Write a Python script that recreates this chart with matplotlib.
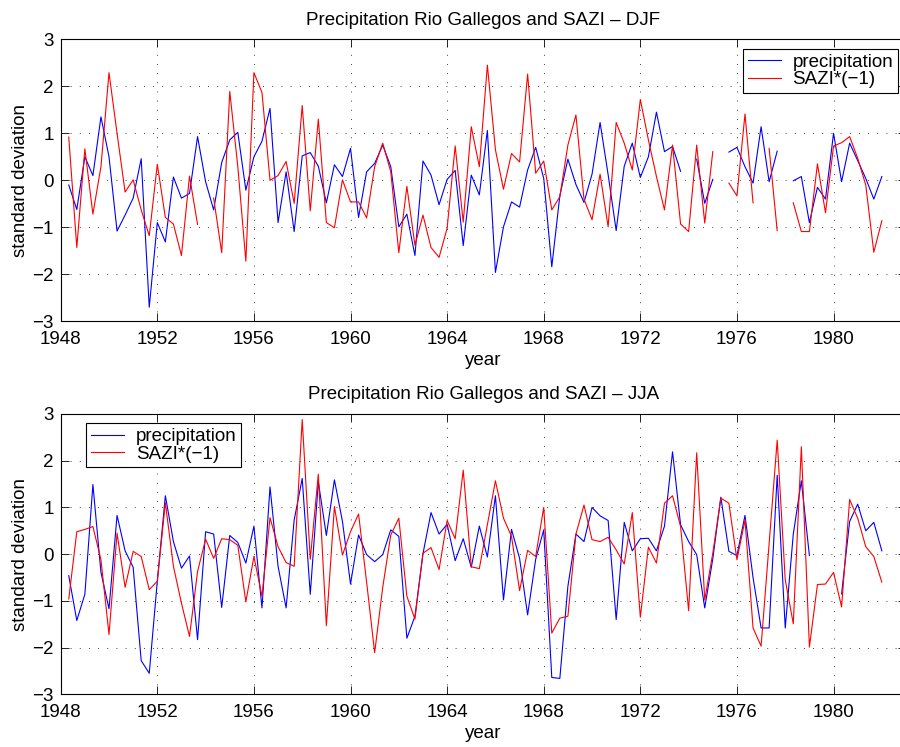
import numpy as np
import matplotlib
matplotlib.use("Agg")
import matplotlib.pyplot as plt

nan = np.nan

# three values per year, 1948 + k/3, k = 1..102
years = 1948 + np.arange(1, 103) / 3.0

djf_precip = [
    -0.10, -0.62, 0.50, 0.10, 1.35, 0.50, -1.08, -0.74, -0.38, 0.46,
    -2.70, -0.90, -1.31, 0.07, -0.38, -0.28, 0.93, -0.03, -0.63, 0.38,
    0.86, 1.02, -0.21, 0.50, 0.83, 1.53, -0.90, 0.18, -1.09, 0.52,
    0.59, 0.30, -0.48, 0.33, 0.08, 0.68, -0.79, 0.18, 0.36, 0.75,
    0.29, -0.99, -0.72, -1.60, 0.41, 0.11, -0.52, 0.02, 0.21, -1.39,
    0.11, -0.31, 1.06, -1.96, -0.99, -0.46, -0.57, 0.22, 0.70, 0.04,
    -1.84, -0.33, 0.45, -0.09, -0.47, 0.13, 1.23, 0.12, -1.07, 0.30,
    0.79, 0.06, 0.50, 1.45, 0.61, 0.72, 0.19, nan, 0.45, -0.49,
    0.02, nan, 0.60, 0.70, 0.29, -0.06, 1.14, -0.03, 0.62, nan,
    -0.01, 0.08, -0.90, -0.15, -0.40, 1.00, -0.03, 0.79, 0.42, 0.04,
    -0.40, 0.08,
]
djf_sazi = [
    0.92, -1.43, 0.67, -0.72, 0.29, 2.29, 1.00, -0.25, 0.01, -0.63,
    -1.18, 0.34, -0.79, -0.93, -1.60, 0.09, -0.94, nan, -0.38, -1.54,
    1.89, 0.29, -1.72, 2.29, 1.87, 0.00, 0.10, 0.40, -0.49, 1.59,
    -0.65, 1.30, -0.90, -1.01, 0.01, -0.46, -0.46, -0.80, 0.29, 0.79,
    0.18, -1.54, -0.13, -1.38, -0.74, -1.43, -1.64, -1.02, 0.73, -0.89,
    1.14, 0.29, 2.45, 0.65, -0.19, 0.57, 0.39, 2.26, 0.15, 0.41,
    -0.63, -0.35, 0.75, 1.39, -0.40, -0.84, 0.13, -0.99, 1.23, 0.79,
    0.22, 1.72, 0.86, 0.08, -0.63, 0.75, -0.93, -1.09, 0.75, -0.91,
    0.61, nan, -0.06, -0.33, 1.41, -0.48, nan, 0.68, -1.07, nan,
    -0.48, -1.09, -1.09, 0.35, -0.69, 0.73, 0.80, 0.93, 0.47, -0.10,
    -1.53, -0.86,
]
jja_precip = [
    -0.46, -1.42, -0.86, 1.49, -0.39, -1.17, 0.83, 0.07, -0.28, -2.28,
    -2.55, -0.58, 1.25, 0.27, -0.30, -0.04, -1.83, 0.48, 0.43, -1.14,
    0.40, 0.25, -0.19, 0.60, -1.15, 1.44, -0.26, -1.15, 0.73, 1.62,
    -0.86, 1.55, 0.40, 1.59, 0.70, -0.64, 0.41, -0.01, -0.16, -0.01,
    0.52, 0.38, -1.80, -1.33, 0.01, 0.89, 0.43, 0.64, -0.14, 0.33,
    -0.28, 0.60, -0.06, 1.25, -0.98, 0.53, -0.09, -1.30, -0.11, 0.52,
    -2.64, -2.66, -0.69, 0.43, 0.27, 1.00, 0.82, 0.72, -1.40, 0.68,
    0.07, 0.33, 0.34, 0.07, 0.60, 2.19, 0.63, 0.27, -0.01, -1.15,
    -0.10, 1.22, 0.06, -0.03, 0.83, -0.50, -1.58, -1.58, 1.69, -1.58,
    0.43, 1.57, -0.03, nan, nan, nan, -0.85, 0.70, 1.07, 0.50,
    0.68, 0.07,
]
jja_sazi = [
    -0.96, 0.48, 0.53, 0.59, -0.12, -1.72, 0.45, -0.71, 0.06, -0.05,
    -0.76, -0.58, 1.10, -0.26, -1.05, -1.76, -0.37, 0.32, -0.09, 0.33,
    0.31, 0.19, -1.02, -0.05, -0.90, 0.78, 0.16, -0.18, -0.26, 2.88,
    -0.11, 1.71, -1.53, 1.02, -0.02, 0.48, 0.86, -0.60, -2.11, -0.71,
    0.41, 0.77, -0.90, -1.39, 0.02, 0.14, -0.33, 0.72, 0.33, 1.80,
    -0.27, -0.31, 0.63, 1.57, 0.77, 0.38, -0.78, 0.08, -0.05, 1.00,
    -1.69, -1.37, -1.33, 0.43, 1.05, 0.31, 0.27, 0.36, 0.09, -0.21,
    0.89, -1.35, 0.15, -0.19, 1.09, 1.25, 0.59, -1.21, 2.17, -0.98,
    0.02, 1.20, 1.09, -0.12, 0.73, -1.58, -1.97, 0.23, 2.44, -0.55,
    -1.49, 2.30, -1.99, -0.65, -0.64, -0.39, -1.13, 1.17, 0.77, 0.16,
    -0.05, -0.60,
]

titles = ["Precipitation Rio Gallegos and SAZI \u2013 DJF",
          "Precipitation Rio Gallegos and SAZI \u2013 JJA"]
labels = ["precipitation", "SAZI*(\u22121)"]
xticks = [1948, 1952, 1956, 1960, 1964, 1968, 1972, 1976, 1980]
yticks = [-3, -2, -1, 0, 1, 2, 3]

plt.rcParams["font.family"] = ["Liberation Sans", "DejaVu Sans"]
plt.rcParams["font.size"] = 13.5
plt.rcParams["axes.unicode_minus"] = True

fig = plt.figure(figsize=(9.0, 7.47), dpi=100)
W, H = 900.0, 747.0
ax_top = fig.add_axes([60.7 / W, 1 - 321.3 / H, 845.3 / W, 282.0 / H])
ax_bot = fig.add_axes([60.7 / W, 1 - 694.3 / H, 845.3 / W, 280.3 / H])

panels = [
    (ax_top, djf_precip, djf_sazi, titles[0], "upper right", (0.9905, 0.9656)),
    (ax_bot, jja_precip, jja_sazi, titles[1], "upper left", (0.0299, 0.9668)),
]

for ax, precip, sazi, title, loc, anchor in panels:
    ax.plot(years, precip, color=(0, 0, 1), lw=0.8, label=labels[0])
    ax.plot(years, sazi, color=(1, 0, 0), lw=0.8, label=labels[1])
    ax.set_xlim(1948, 1983)
    ax.set_ylim(-3, 3)
    ax.set_xticks(xticks)
    ax.set_yticks(yticks)
    ax.grid(True, color="k", linestyle=(0, (1, 10)), linewidth=0.6)
    ax.tick_params(direction="in", length=5.8, width=0.6, top=True,
                   right=True, pad=5)
    ax.tick_params(axis="x", pad=7)
    for s in ax.spines.values():
        s.set_linewidth(0.8)
    ax.set_title(title, fontsize=13.5, pad=10.5)
    ax.set_xlabel("year", labelpad=3)
    ax.set_ylabel("standard deviation", labelpad=2)
    leg = ax.legend(loc=loc, bbox_to_anchor=anchor, borderaxespad=0,
                    fancybox=False, framealpha=1, edgecolor="k",
                    handlelength=1.8, handletextpad=0.6, borderpad=0.25,
                    labelspacing=0.02)
    leg.get_frame().set_linewidth(0.8)

fig.savefig("out.png", dpi=100)
